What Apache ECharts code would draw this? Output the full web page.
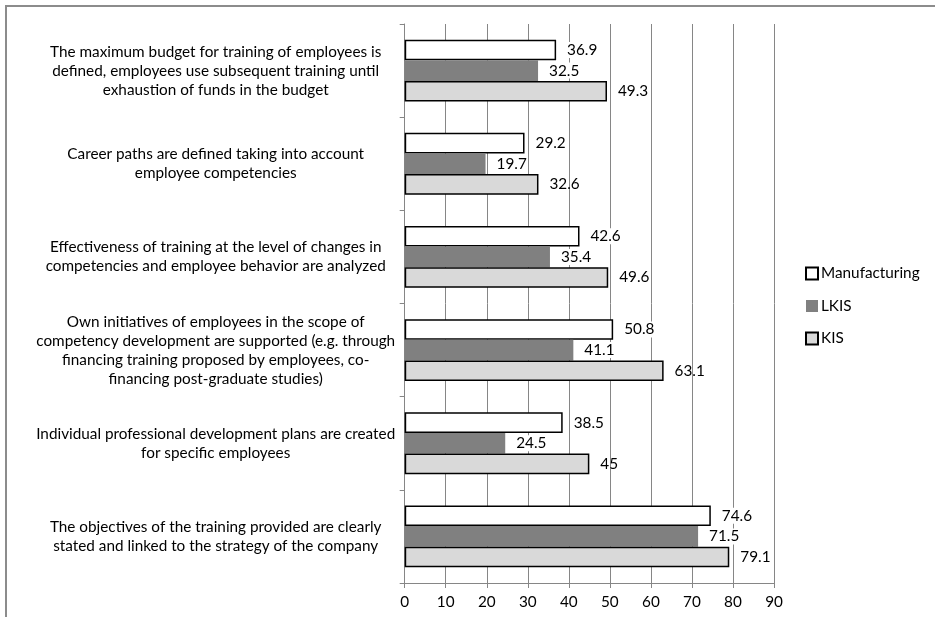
<!DOCTYPE html>
<html><head><meta charset="utf-8">
<script src="https://cdn.jsdelivr.net/npm/echarts@6/dist/echarts.min.js"></script>
<style>html,body{margin:0;padding:0;background:#fff}#c{width:935px;height:617px}</style>
</head><body><div id="c"></div>
<script>
const categories = [
  "The maximum budget for training of employees is\ndefined, employees use subsequent training until\nexhaustion of funds in the budget",
  "Career paths are defined taking into account\nemployee competencies",
  "Effectiveness of training at the level of changes in\ncompetencies and employee behavior are analyzed",
  "Own initiatives of employees in the scope of\ncompetency development are supported (e.g. through\nfinancing training proposed by employees, co-\nfinancing post-graduate studies)",
  "Individual professional development plans are created\nfor specific employees",
  "The objectives of the training provided are clearly\nstated and linked to the strategy of the company"
];
const seriesNames = ["Manufacturing", "LKIS", "KIS"];
const manufacturing = [36.9, 29.2, 42.6, 50.8, 38.5, 74.6];
const lkis = [32.5, 19.7, 35.4, 41.1, 24.5, 71.5];
const kis = [49.3, 32.6, 49.6, 63.1, 45, 79.1];
const xTicks = [0, 10, 20, 30, 40, 50, 60, 70, 80, 90];

const FONT = "Lato";
const FS = 15.3;
const chart = echarts.init(document.getElementById('c'), null, {renderer: 'canvas'});
function lbl(bg) {
  return {show: true, position: 'right', distance: 10, color: '#000', fontFamily: FONT, fontSize: FS,
    backgroundColor: bg ? '#fff' : 'transparent', padding: [1, 1, 0, 1]};
}
chart.setOption({
  animation: false,
  backgroundColor: '#fff',
  textStyle: {fontFamily: FONT},
  graphic: [{type: 'rect', shape: {x: 6, y: 6, width: 940, height: 640}, style: {fill: 'none', stroke: '#8c8c8c', lineWidth: 2}, z: 0}],
  grid: {left: 404.7, right: 935 - 774, top: 24, bottom: 617 - 583, containLabel: false},
  legend: {
    orient: 'vertical', left: 800, top: 261, itemGap: 17.5, itemWidth: 12, itemHeight: 12,
    icon: 'rect', data: seriesNames,
    textStyle: {fontFamily: FONT, fontSize: FS, color: '#000', padding: [0, 0, 0, -2]}
  },
  xAxis: {
    type: 'value', min: xTicks[0], max: xTicks[xTicks.length - 1], interval: 10,
    axisLine: {show: true, lineStyle: {color: '#868686'}},
    axisTick: {show: true, length: 5, lineStyle: {color: '#868686'}},
    axisLabel: {fontFamily: FONT, fontSize: FS, color: '#000', margin: 12},
    splitLine: {show: true, lineStyle: {color: '#868686', width: 1}}
  },
  yAxis: {
    type: 'category', data: categories, inverse: true,
    axisLine: {show: true, lineStyle: {color: '#868686'}},
    axisTick: {show: true, length: 5, lineStyle: {color: '#868686'}},
    axisLabel: {fontFamily: FONT, fontSize: FS, color: '#000', align: 'center', margin: 189, lineHeight: 19}
  },
  series: [
    {name: seriesNames[0], type: 'bar', data: manufacturing, barGap: '0%', barCategoryGap: '33.6%',
      itemStyle: {color: '#ffffff', borderColor: '#000', borderWidth: 1.5}, label: lbl(true)},
    {name: seriesNames[1], type: 'bar', data: lkis, barGap: '0%', barCategoryGap: '33.6%',
      itemStyle: {color: '#808080', borderWidth: 0}, label: lbl(true)},
    {name: seriesNames[2], type: 'bar', data: kis, barGap: '0%', barCategoryGap: '33.6%',
      itemStyle: {color: '#d9d9d9', borderColor: '#000', borderWidth: 1.5}, label: lbl(false)}
  ]
});
</script></body></html>
